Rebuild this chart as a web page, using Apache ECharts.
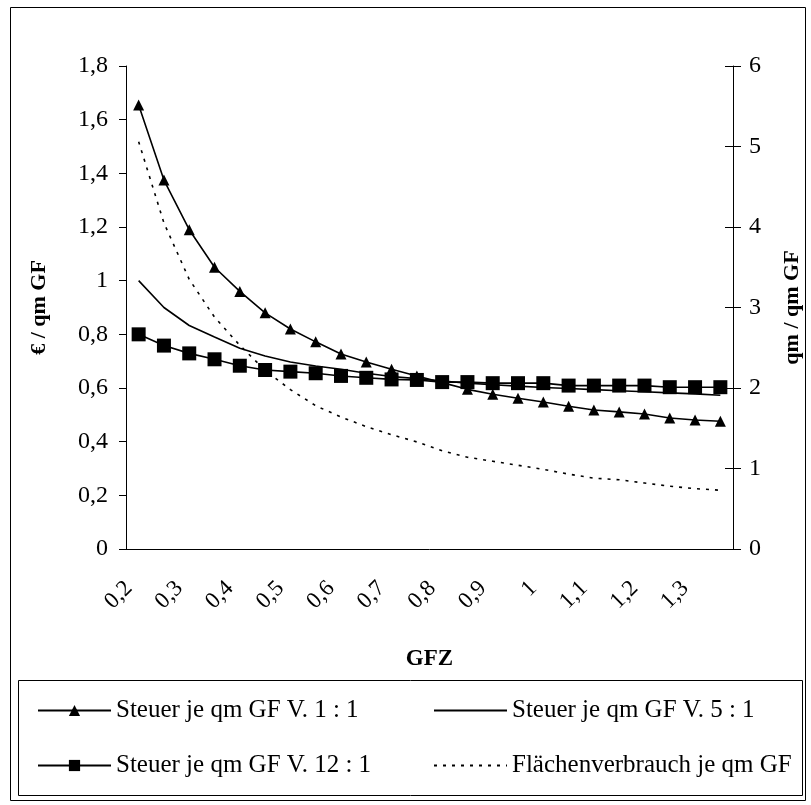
<!DOCTYPE html>
<html>
<head>
<meta charset="utf-8">
<title>Steuer je qm GF</title>
<style>
  html, body { margin: 0; padding: 0; background: #fff; }
  #main { width: 811px; height: 805px; }
</style>
</head>
<body>
<div id="main"></div>
<script src="https://cdn.jsdelivr.net/npm/echarts@6/dist/echarts.min.js"></script>
<script>
// GFZ-Werte (x-Achse)
var gfz = ['0,2', '0,25', '0,3', '0,35', '0,4', '0,45', '0,5', '0,55', '0,6', '0,65', '0,7', '0,75',
           '0,8', '0,85', '0,9', '0,95', '1', '1,05', '1,1', '1,15', '1,2', '1,25', '1,3', '1,35'];

// Steuer je qm GF (€ / qm GF)
var steuer1 = [1.655, 1.375, 1.19, 1.05, 0.96, 0.88, 0.82, 0.772, 0.727, 0.697, 0.67, 0.645,
               0.62, 0.595, 0.577, 0.562, 0.548, 0.532, 0.518, 0.511, 0.503, 0.488, 0.481, 0.476];
var steuer5 = [1.0, 0.90, 0.833, 0.79, 0.748, 0.719, 0.697, 0.682, 0.67, 0.655, 0.643, 0.635,
               0.626, 0.618, 0.612, 0.607, 0.602, 0.598, 0.594, 0.590, 0.586, 0.582, 0.578, 0.573];
var steuer12 = [0.80, 0.758, 0.729, 0.707, 0.683, 0.667, 0.661, 0.655, 0.645, 0.638, 0.632, 0.63,
                0.622, 0.622, 0.618, 0.618, 0.618, 0.609, 0.609, 0.609, 0.609, 0.603, 0.603, 0.603];

// Flächenverbrauch je qm GF (qm / qm GF, rechte Achse)
var flaeche = [5.06, 4.05, 3.35, 2.88, 2.53, 2.22, 1.98, 1.78, 1.64, 1.52, 1.42, 1.33,
               1.22, 1.14, 1.09, 1.04, 0.99, 0.93, 0.88, 0.86, 0.82, 0.78, 0.75, 0.73];

var names = ['Steuer je qm GF V. 1 : 1', 'Steuer je qm GF V. 5 : 1',
             'Steuer je qm GF V. 12 : 1', 'Flächenverbrauch je qm GF'];

var font = 'Liberation Serif';
var black = '#000';

var myChart = echarts.init(document.getElementById('main'));

function komma(v) {
  return String(Math.round(v * 10) / 10).replace('.', ',');
}

var legendText = { fontFamily: font, fontSize: 25, color: black, padding: [0, 0, 0, 0] };

var option = {
  animation: false,
  backgroundColor: '#fff',
  textStyle: { fontFamily: font, color: black },
  graphic: [
    { type: 'rect', shape: { x: 10.5, y: 7.5, width: 795, height: 793 },
      style: { fill: 'none', stroke: black, lineWidth: 1 }, silent: true },
    { type: 'rect', shape: { x: 18.5, y: 680.5, width: 784, height: 115 },
      style: { fill: 'none', stroke: black, lineWidth: 1 }, silent: true }
  ],
  legend: [{
    left: 32, top: 693, orient: 'vertical', itemGap: 30,
    itemWidth: 73, itemHeight: 14,
    textStyle: legendText,
    data: [names[0], names[2]]
  }, {
    left: 428, top: 693, orient: 'vertical', itemGap: 30,
    itemWidth: 73, itemHeight: 14,
    textStyle: legendText,
    data: [
      { name: names[1], itemStyle: { opacity: 0 } },
      { name: names[3], itemStyle: { opacity: 0 } }
    ]
  }],
  grid: { left: 126, right: 66, top: 66, bottom: 256 },
  xAxis: {
    type: 'category',
    data: gfz,
    boundaryGap: true,
    name: 'GFZ',
    nameLocation: 'middle',
    nameGap: 99,
    nameTextStyle: { fontFamily: font, fontSize: 23, fontWeight: 'bold', color: black },
    axisLine: { lineStyle: { color: black, width: 1 } },
    axisTick: { interval: 0, length: 6, lineStyle: { color: black } },
    axisLabel: { interval: 1, rotate: 45, margin: 26, padding: [0, 14, 0, 0],
                 fontFamily: font, fontSize: 23, color: black },
    splitLine: { show: false }
  },
  yAxis: [{
    type: 'value',
    min: 0, max: 1.8, interval: 0.2,
    name: '€ / qm GF',
    nameLocation: 'middle',
    nameRotate: 90,
    nameGap: 76,
    nameTextStyle: { fontFamily: font, fontSize: 22, fontWeight: 'bold', color: black },
    axisLine: { show: true, lineStyle: { color: black, width: 1 } },
    axisTick: { show: true, length: 7, lineStyle: { color: black } },
    axisLabel: { margin: 18, fontFamily: font, fontSize: 24, color: black, formatter: komma },
    splitLine: { show: false }
  }, {
    type: 'value',
    position: 'right',
    min: 0, max: 6, interval: 1,
    name: 'qm / qm GF',
    nameLocation: 'middle',
    nameRotate: 90,
    nameGap: 48,
    nameTextStyle: { fontFamily: font, fontSize: 22, fontWeight: 'bold', color: black },
    axisLine: { show: true, lineStyle: { color: black, width: 1 } },
    axisTick: { show: true, length: 8, lineStyle: { color: black } },
    axisLabel: { margin: 16, fontFamily: font, fontSize: 24, color: black },
    splitLine: { show: false }
  }, {
    // innere Hälfte der Teilstriche rechts
    type: 'value',
    position: 'right',
    min: 0, max: 6, interval: 1,
    axisLine: { show: false },
    axisTick: { show: true, inside: true, length: 8, lineStyle: { color: black } },
    axisLabel: { show: false },
    splitLine: { show: false }
  }],
  series: [{
    name: names[0], type: 'line', data: steuer1, yAxisIndex: 0,
    symbol: 'triangle', symbolSize: 11,
    itemStyle: { color: black },
    lineStyle: { color: black, width: 1.6 }
  }, {
    name: names[1], type: 'line', data: steuer5, yAxisIndex: 0,
    symbol: 'none', showSymbol: false,
    itemStyle: { color: black },
    lineStyle: { color: black, width: 1.6 }
  }, {
    name: names[2], type: 'line', data: steuer12, yAxisIndex: 0,
    symbol: 'rect', symbolSize: 14,
    itemStyle: { color: black },
    lineStyle: { color: black, width: 1.6 }
  }, {
    name: names[3], type: 'line', data: flaeche, yAxisIndex: 1,
    symbol: 'none', showSymbol: false,
    itemStyle: { color: black },
    lineStyle: { color: black, width: 1.6, type: [3, 6] }
  }]
};

myChart.setOption(option);
</script>
</body>
</html>
